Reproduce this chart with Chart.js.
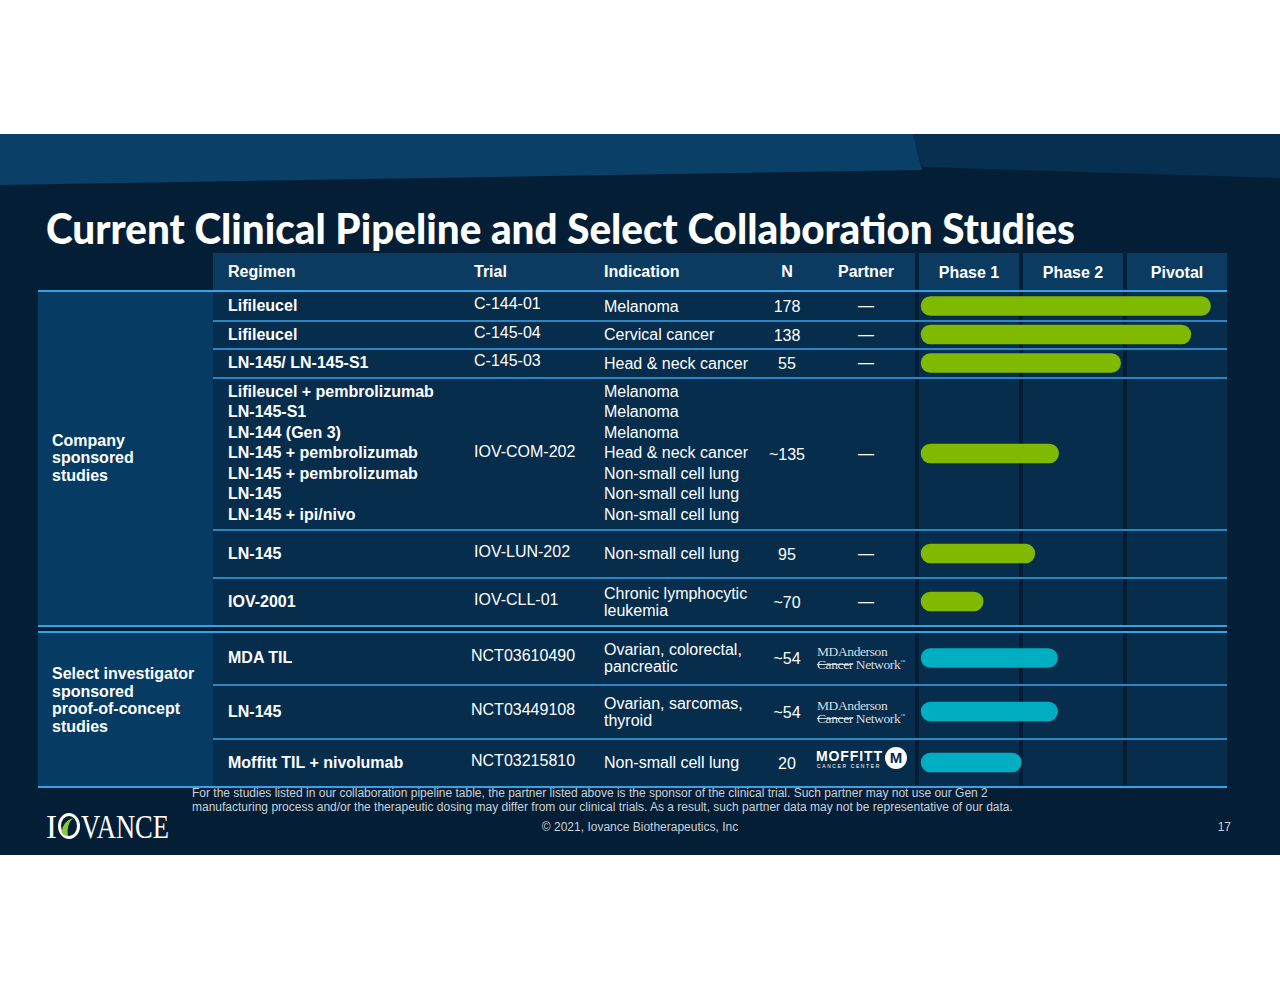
<!DOCTYPE html>
<html>
<head>
<meta charset="utf-8">
<script src="https://cdn.jsdelivr.net/npm/chart.js@4.4.1/dist/chart.umd.min.js"></script>
<style>
  html, body { margin: 0; padding: 0; background: #fff; }
  body { width: 1280px; height: 989px; position: relative; overflow: hidden; font-family: "Liberation Sans", Arial, sans-serif; }
  #slide { position: absolute; left: 0; top: 134px; width: 1280px; height: 721px; background: #041f35; overflow: hidden; }
  .abs { position: absolute; }
  .txt { position: absolute; color: #fff; font-size: 16px; white-space: nowrap; }
  .b { font-weight: bold; }
  .cell { position: absolute; display: flex; flex-direction: column; justify-content: center; color: #fff; font-size: 16px; white-space: nowrap; }
  .hline { position: absolute; height: 2px; background: #2b86c6; }
  .hline.bright { background: #35a2e6; }
  .vsep { position: absolute; width: 4px; background: rgba(1, 16, 32, 0.55); }
  canvas { position: absolute; }
  .mda { position: absolute; font-family: "Liberation Serif", "DejaVu Serif", serif; color: #d4dbe2; font-size: 13.5px; line-height: 10px; letter-spacing: -0.4px; white-space: nowrap; }
  .mda s { text-decoration-thickness: 1px; }
  .foot { position: absolute; color: #c9d1da; font-size: 12px; white-space: nowrap; }
  .logo { position: absolute; color: #fff; font-family: "Liberation Serif", serif; font-size: 33px; line-height: 34px; white-space: nowrap; transform-origin: 0 0; }
</style>
</head>
<body>
<div id="slide">
  <svg class="abs" style="left:0;top:0" width="1280" height="721">
    <polygon points="913,0 1280,0 1280,44 922,33" fill="#072f4f"/>
    <polygon points="0,0 913,0 922,36 0,51" fill="#0a3f67"/>
  </svg>
  <div id="title" class="txt" style="left:46px;top:73px;font-family:Lato,'Open Sans',sans-serif;font-weight:900;font-size:42px;line-height:42px;transform-origin:0 0;">Current Clinical Pipeline and Select Collaboration Studies</div>
</div>
<div id="table" class="abs" style="left:0;top:0;width:1280px;height:989px;"></div>
<script>
// rows of the pipeline table
const regimens = [
  ['Lifileucel'],
  ['Lifileucel'],
  ['LN-145/ LN-145-S1'],
  ['Lifileucel + pembrolizumab', 'LN-145-S1', 'LN-144 (Gen 3)', 'LN-145 + pembrolizumab', 'LN-145 + pembrolizumab', 'LN-145', 'LN-145 + ipi/nivo'],
  ['LN-145'],
  ['IOV-2001'],
  ['MDA TIL'],
  ['LN-145'],
  ['Moffitt TIL + nivolumab']
];
const trials = ['C-144-01', 'C-145-04', 'C-145-03', 'IOV-COM-202', 'IOV-LUN-202', 'IOV-CLL-01', 'NCT03610490', 'NCT03449108', 'NCT03215810'];
const indications = [
  ['Melanoma'],
  ['Cervical cancer'],
  ['Head & neck cancer'],
  ['Melanoma', 'Melanoma', 'Melanoma', 'Head & neck cancer', 'Non-small cell lung', 'Non-small cell lung', 'Non-small cell lung'],
  ['Non-small cell lung'],
  ['Chronic lymphocytic', 'leukemia'],
  ['Ovarian, colorectal,', 'pancreatic'],
  ['Ovarian, sarcomas,', 'thyroid'],
  ['Non-small cell lung']
];
const patients = ['178', '138', '55', '~135', '95', '~70', '~54', '~54', '20'];
const partners = ['—', '—', '—', '—', '—', '—', 'mda', 'mda', 'moffitt'];
const headers = ['Regimen', 'Trial', 'Indication', 'N', 'Partner'];
const phases = ['Phase 1', 'Phase 2', 'Pivotal'];
// bar extent in phase units (0 = start of Phase 1, 3 = end of Pivotal)
const barStart = [0.04, 0.04, 0.04, 0.04, 0.04, 0.04, 0.04, 0.04, 0.04];
const barEnd = [2.84, 2.65, 1.97, 1.37, 1.14, 0.64, 1.36, 1.36, 1.01];
const groups = ['Company\nsponsored\nstudies', 'Select investigator\nsponsored\nproof-of-concept\nstudies'];
const groupOf = [0, 0, 0, 0, 0, 0, 1, 1, 1];
const GREEN = '#7fba00';
const TEAL = '#00aec2';

// layout
const rowTop = [292, 321, 349, 378, 530, 578, 632, 685, 739];
const rowBot = [320, 348, 377, 529, 577, 625, 684, 738, 786];
const T = document.getElementById('table');
function el(cls, style, html) {
  const d = document.createElement('div');
  d.className = cls;
  d.setAttribute('style', style);
  if (html !== undefined) d.innerHTML = html;
  T.appendChild(d);
  return d;
}

// backgrounds
el('abs', 'left:213px;top:253px;width:1014px;height:38px;background:#0b3b60');
el('abs', 'left:213px;top:292px;width:1014px;height:334px;background:#072d4d');
el('abs', 'left:213px;top:632px;width:1014px;height:155px;background:#072d4d');
el('abs', 'left:38px;top:292px;width:175px;height:334px;background:#063b63');
el('abs', 'left:38px;top:632px;width:175px;height:155px;background:#063b63');

// column dividers in the phase area
[915, 1019, 1123].forEach(x => {
  el('vsep', 'left:' + x + 'px;top:253px;height:534px');
  el('abs', 'left:' + x + 'px;top:253px;width:4px;height:38px;background:#041f35');
});

// horizontal rules
el('hline bright', 'left:38px;top:290px;width:1189px');
rowBot.forEach((y, i) => {
  if (i === 5 || i === 8) return;
  el('hline', 'left:213px;top:' + y + 'px;width:1014px');
});
el('abs', 'left:38px;top:626px;width:1189px;height:6px;background:#041f35');
el('hline bright', 'left:38px;top:625px;width:1189px');
el('hline bright', 'left:38px;top:631px;width:1189px');
el('hline bright', 'left:38px;top:786px;width:1189px');

// header
const hdrX = [228, 474, 604, 757, 816];
const hdrW = [200, 100, 120, 60, 100];
headers.forEach((h, i) => {
  const al = i >= 3 ? 'text-align:center;' : '';
  el('cell b', 'left:' + hdrX[i] + 'px;top:256px;height:32px;width:' + hdrW[i] + 'px;' + al, '<div>' + h + '</div>');
});
phases.forEach((p, i) => {
  el('cell b', 'left:' + (919 + i * 104) + 'px;top:257px;height:32px;width:100px;text-align:center', '<div>' + p + '</div>');
});

// group labels
el('cell b', 'left:52px;top:300px;height:316px;line-height:17.5px;', groups[0].split('\n').map(s => '<div>' + s + '</div>').join(''));
el('cell b', 'left:52px;top:638px;height:124px;line-height:17.5px;', groups[1].split('\n').map(s => '<div>' + s + '</div>').join(''));

function lines(arr, lh) {
  return arr.map(s => '<div style="line-height:' + lh + 'px">' + s + '</div>').join('');
}

function partnerHtml(p) {
  if (p === 'mda') return '<div class="mda" style="left:1px;top:-11px">MDAnderson<br><s>Cancer</s> Network<sup style="font-size:5px">™</sup></div>';
  return '<div style="position:absolute;left:0;top:-15px;width:95px;height:24px">' +
    '<div style="position:absolute;left:0;top:0;font-weight:bold;font-size:14px;letter-spacing:0.9px;color:#fff;line-height:16px">MOFFITT</div>' +
    '<div style="position:absolute;left:1px;top:15px;font-size:5px;letter-spacing:1.6px;color:#fff;line-height:6px">CANCER CENTER</div>' +
    '<div style="position:absolute;left:69px;top:-1px;width:22px;height:22px;border-radius:50%;background:#fff;color:#072d4d;font-weight:bold;font-size:15px;line-height:22px;text-align:center">M</div></div>';
}

rowTop.forEach((top, i) => {
  const h = rowBot[i] - top - 2;
  const multi = regimens[i].length > 1;
  el('cell b', 'left:228px;top:' + (top + 1) + 'px;height:' + h + 'px', lines(regimens[i], multi ? 20.5 : 18));
  el('cell', 'left:' + (i >= 6 ? 471 : 474) + 'px;top:' + (top - 1) + 'px;height:' + h + 'px', '<div>' + trials[i] + '</div>');
  el('cell', 'left:604px;top:' + (top + 1) + 'px;height:' + h + 'px', lines(indications[i], indications[i].length === 7 ? 20.5 : 17));
  el('cell', 'left:757px;top:' + (top + 2) + 'px;height:' + h + 'px;width:60px;text-align:center', '<div>' + patients[i] + '</div>');
  const mid = top + (rowBot[i] - top) / 2;
  if (partners[i] === '—') {
    el('abs', 'left:836px;top:' + (mid - 9) + 'px;width:60px;text-align:center;color:#fff;font-size:16px;line-height:18px', '—');
  } else {
    el('abs', 'left:816px;top:' + mid + 'px;width:95px;height:0;color:#fff', partnerHtml(partners[i]));
  }

  // the bar for this row, drawn by Chart.js on a phase scale of 0..3
  const cv = document.createElement('canvas');
  cv.width = 310;
  cv.height = rowBot[i] - top;
  cv.style.left = '917px';
  cv.style.top = top + 'px';
  T.appendChild(cv);
  new Chart(cv.getContext('2d'), {
    type: 'bar',
    data: {
      labels: [trials[i]],
      datasets: [{
        data: [[barStart[i], barEnd[i]]],
        backgroundColor: groupOf[i] === 0 ? GREEN : TEAL,
        barThickness: 19,
        borderRadius: 10,
        borderSkipped: false
      }]
    },
    options: {
      indexAxis: 'y',
      responsive: false,
      animation: false,
      layout: { padding: 0 },
      plugins: { legend: { display: false }, tooltip: { enabled: false } },
      scales: {
        x: { type: 'linear', min: 0, max: 3, display: false },
        y: { display: false }
      }
    }
  });
});

// footer
el('foot', 'left:192px;top:787px;line-height:13.5px', 'For the studies listed in our collaboration pipeline table, the partner listed above is the sponsor of the clinical trial. Such partner may not use our Gen 2<br>manufacturing process and/or the therapeutic dosing may differ from our clinical trials. As a result, such partner data may not be representative of our data.');
el('foot', 'left:440px;width:400px;text-align:center;top:820px', '© 2021, Iovance Biotherapeutics, Inc');
el('foot', 'left:1200px;width:31px;text-align:right;top:820px', '17');

// logo: I + ring with green crescent + VANCE
el('logo', 'left:46px;top:810px', 'I');
el('abs', 'left:57px;top:812px',
  '<svg width="26" height="28" style="display:block">' +
  '<ellipse cx="12" cy="14" rx="9.5" ry="11.5" fill="none" stroke="#fff" stroke-width="3"/>' +
  '<path d="M4.5 20 Q6 9 16 6 Q9 13 11 24 Q6 24 4.5 20Z" fill="#8cc63f"/>' +
  '</svg>');
const vance = el('logo', 'left:81px;top:810px', 'VANCE');
vance.style.transform = 'scaleX(' + (88 / vance.getBoundingClientRect().width) + ')';

// fit the title to its width in the slide
const title = document.getElementById('title');
const w = title.getBoundingClientRect().width;
title.style.transform = 'scaleX(' + (1029 / w) + ')';
</script>
</body>
</html>
